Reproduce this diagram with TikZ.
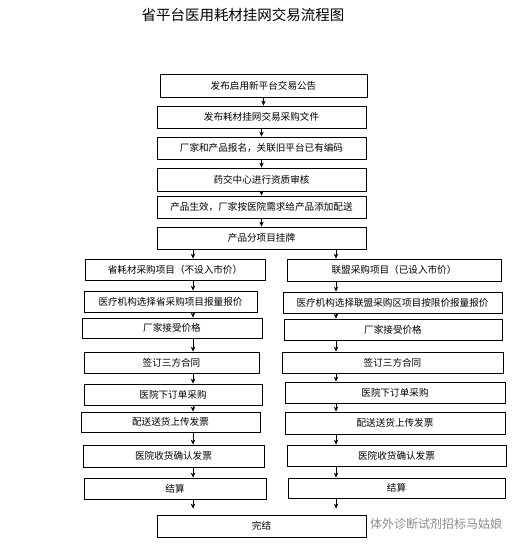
\documentclass[tikz,border=0pt]{standalone}
\usepackage{fontspec}
\setmainfont{Noto Sans CJK SC}
\usetikzlibrary{arrows.meta,positioning}
\tikzset{
flowbox/.style={rectangle,draw=black,line width=0.8pt,fill=white,inner sep=0pt,
  align=center,font=\fontsize{9.6}{11}\selectfont},
flowarr/.style={line width=0.8pt,-{Stealth[length=5pt,width=4.5pt]}},
titletext/.style={font=\fontsize{14.5}{16}\selectfont},
marktext/.style={text=black!45,font=\fontsize{12}{14}\selectfont}
}
\begin{document}
\begin{tikzpicture}[x=1pt,y=-1pt]
\path[fill=white,use as bounding box] (0,0) rectangle (519,547);
\node[titletext] (title) at (243,15) {省平台医用耗材挂网交易流程图};
% main chain
\node[flowbox,minimum width=207pt,minimum height=23pt] (pub) at (263.5,85.5) {发布启用新平台交易公告};
\node[flowbox,minimum width=209pt,minimum height=22pt] (doc) at (261.5,117) {发布耗材挂网交易采购文件};
\node[flowbox,minimum width=209pt,minimum height=22pt] (reg) at (261.5,148) {厂家和产品报名，关联旧平台已有编码};
\node[flowbox,minimum width=209pt,minimum height=23pt] (chk) at (261.5,179.5) {药交中心进行资质审核};
\node[flowbox,minimum width=209pt,minimum height=22pt] (eff) at (261.5,207) {产品生效，厂家按医院需求给产品添加配送};
\node[flowbox,minimum width=209pt,minimum height=22pt] (lst) at (261.5,238) {产品分项目挂牌};
% left column
\node[flowbox,minimum width=180pt,minimum height=21pt] (lprj) at (175,269.5) {省耗材采购项目（不设入市价）};
\node[flowbox,minimum width=173pt,minimum height=21pt] (lquo) at (170.5,301.5) {医疗机构选择省采购项目报量报价};
\node[flowbox,minimum width=180pt,minimum height=20pt] (lfac) at (172,328) {厂家接受价格};
\node[flowbox,minimum width=175pt,minimum height=21pt] (lcon) at (171.5,362.5) {签订三方合同};
\node[flowbox,minimum width=178pt,minimum height=21pt] (lord) at (173,394.5) {医院下订单采购};
\node[flowbox,minimum width=179pt,minimum height=20pt] (ldlv) at (170.5,422) {配送送货上传发票};
\node[flowbox,minimum width=181pt,minimum height=22pt] (lrcv) at (173.5,456) {医院收货确认发票};
\node[flowbox,minimum width=182pt,minimum height=21pt] (lpay) at (175,488.5) {结算};
% right column
\node[flowbox,minimum width=214pt,minimum height=22pt] (rprj) at (394,270) {联盟采购项目（已设入市价）};
\node[flowbox,minimum width=219pt,minimum height=21pt] (rquo) at (392.5,302.5) {医疗机构选择联盟采购区项目按限价报量报价};
\node[flowbox,minimum width=218pt,minimum height=21pt] (rfac) at (393,329.5) {厂家接受价格};
\node[flowbox,minimum width=221pt,minimum height=21pt] (rcon) at (392.5,362.5) {签订三方合同};
\node[flowbox,minimum width=220pt,minimum height=21pt] (rord) at (395,392.5) {医院下订单采购};
\node[flowbox,minimum width=220pt,minimum height=22pt] (rdlv) at (395,423) {配送送货上传发票};
\node[flowbox,minimum width=219pt,minimum height=21pt] (rrcv) at (396.5,455.5) {医院收货确认发票};
\node[flowbox,minimum width=217pt,minimum height=20pt] (rpay) at (396.5,488) {结算};
\node[flowbox,minimum width=209pt,minimum height=22pt] (fin) at (261.5,526) {完结};
\node[marktext] (mark) at (436,524) {体外诊断试剂招标马姑娘};
\coordinate (lx) at (193,0);
\coordinate (rx) at (336,0);
\foreach \a/\b in {pub/doc,doc/reg,reg/chk,chk/eff,eff/lst} \draw[flowarr] (\a.south) -- (\a.south |- \b.north);
\foreach \a/\b in {lst/lprj,lprj/lquo,lquo/lfac,lfac/lcon,lcon/lord,lord/ldlv,ldlv/lrcv,lrcv/lpay} \draw[flowarr] (\a.south -| lx) -- (\b.north -| lx);
\foreach \a/\b in {lst/rprj,rprj/rquo,rquo/rfac,rfac/rcon,rcon/rord,rord/rdlv,rdlv/rrcv,rrcv/rpay} \draw[flowarr] (\a.south -| rx) -- (\b.north -| rx);
\draw[flowarr,shorten >=6pt] (lpay.south -| lx) -- (fin.north -| lx);
\draw[flowarr,shorten >=6pt] (rpay.south -| rx) -- (fin.north -| rx);
\end{tikzpicture}
\end{document}
